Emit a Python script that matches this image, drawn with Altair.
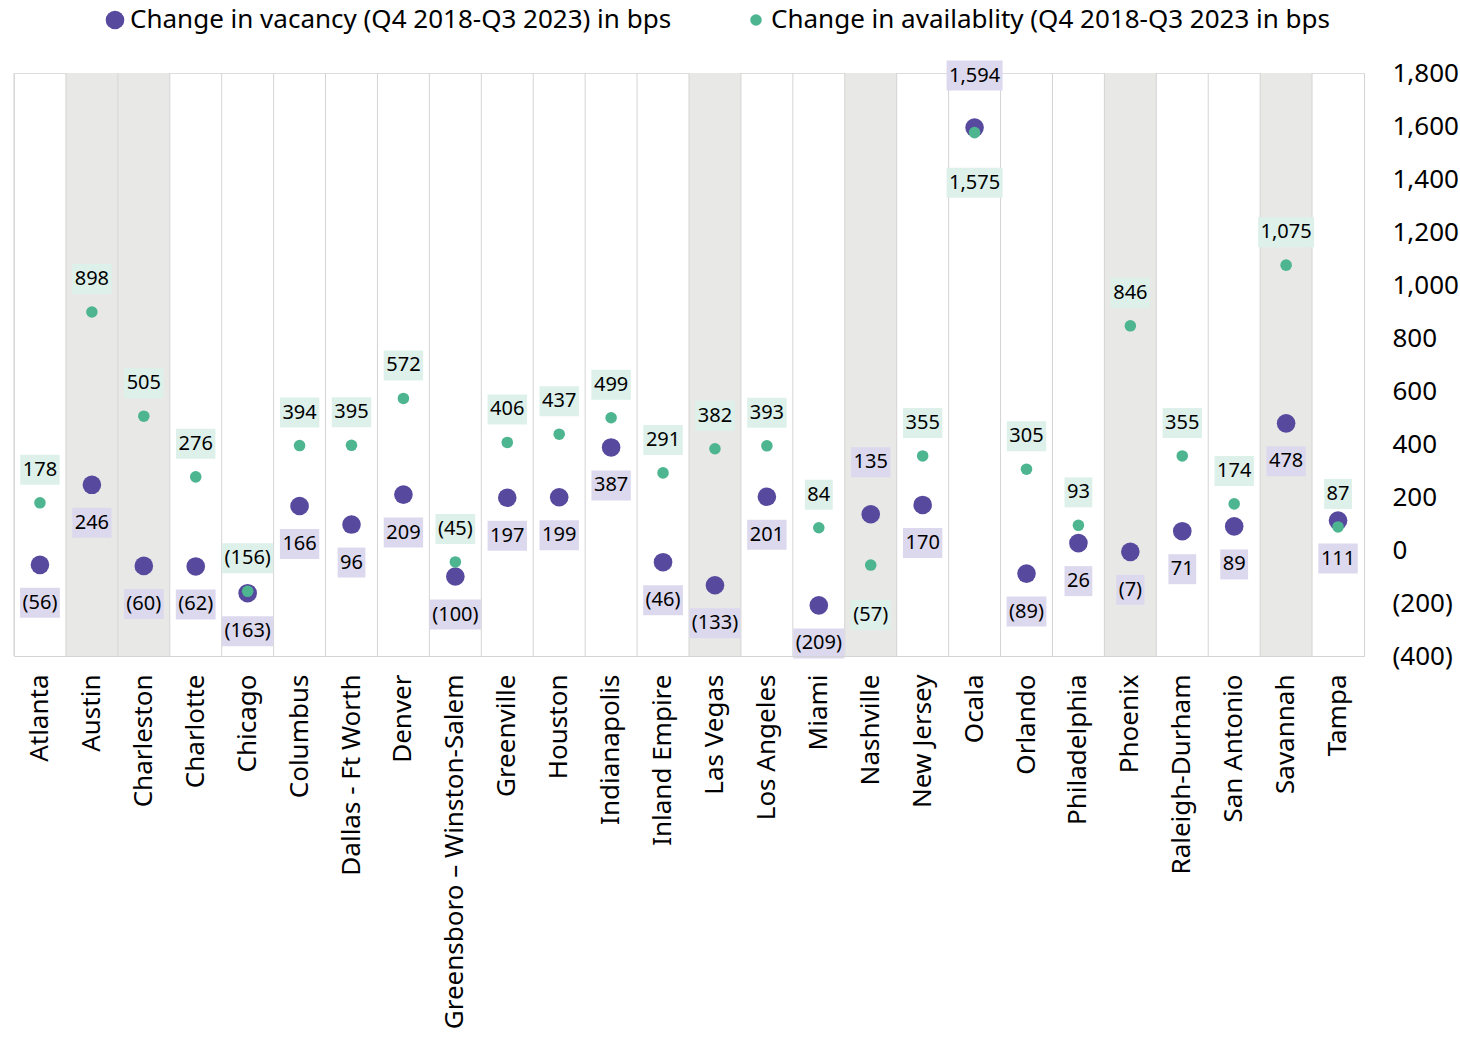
import altair as alt
import pandas as pd

cities = ["Atlanta", "Austin", "Charleston", "Charlotte", "Chicago", "Columbus",
          "Dallas - Ft Worth", "Denver", "Greensboro – Winston-Salem", "Greenville",
          "Houston", "Indianapolis", "Inland Empire", "Las Vegas", "Los Angeles",
          "Miami", "Nashville", "New Jersey", "Ocala", "Orlando", "Philadelphia",
          "Phoenix", "Raleigh-Durham", "San Antonio", "Savannah", "Tampa"]
vacancy = [-56, 246, -60, -62, -163, 166, 96, 209, -100, 197, 199, 387, -46, -133,
           201, -209, 135, 170, 1594, -89, 26, -7, 71, 89, 478, 111]
availability = [178, 898, 505, 276, -156, 394, 395, 572, -45, 406, 437, 499, 291,
                382, 393, 84, -57, 355, 1575, 305, 93, 846, 355, 174, 1075, 87]
shaded = ["Austin", "Charleston", "Las Vegas", "Nashville", "Phoenix", "Savannah"]
vac_label_above = ["Nashville", "Ocala"]
avail_label_below = ["Nashville", "Ocala"]
y_ticks = [-400, -200, 0, 200, 400, 600, 800, 1000, 1200, 1400, 1600, 1800]

VAC = "Change in vacancy (Q4 2018-Q3 2023) in bps"
AVAIL = "Change in availablity (Q4 2018-Q3 2023 in bps"

PURPLE = "#574a9e"
GREEN = "#4db590"
PURPLE_BG = "#dcd9ee"
GREEN_BG = "#ddf1ea"
GRID = "#d4d4d4"
SHADE = "#e8e8e6"
FONT = "Noto Sans"


def fmt(v):
    s = f"{abs(v):,}"
    return f"({s})" if v < 0 else s


def text_width(s, fs=20):
    w = 0.0
    for ch in s:
        if ch.isdigit():
            w += 0.572
        elif ch == ",":
            w += 0.26
        elif ch in "()":
            w += 0.296
        else:
            w += 0.5
    return w * fs


def box_path(s):
    hw = (text_width(s) + 5) / 2
    hh = 15
    return f"M{-hw:.1f},{-hh}H{hw:.1f}V{hh}H{-hw:.1f}Z"


rows = []
for c, v in zip(cities, vacancy):
    side = "above" if c in vac_label_above else "below"
    rows.append(dict(city=c, series=VAC, value=v, label=fmt(v), box=box_path(fmt(v)), side=side))
for c, v in zip(cities, availability):
    side = "below" if c in avail_label_below else "above"
    rows.append(dict(city=c, series=AVAIL, value=v, label=fmt(v), box=box_path(fmt(v)), side=side))
df = pd.DataFrame(rows)
df_cities = pd.DataFrame({"city": cities})
df_shade = pd.DataFrame({"city": shaded})

x_scale = alt.Scale(domain=cities, paddingInner=0, paddingOuter=0)
y_scale = alt.Scale(domain=[y_ticks[0], y_ticks[-1]], nice=False, zero=False)

x_axis = alt.Axis(orient="bottom", labelAngle=-90, labelFontSize=26, labelFont=FONT,
                  labelColor="#000000", domainColor=GRID, domainWidth=1, ticks=False,
                  tickSize=0, grid=False, labelPadding=18, title=None, labelLimit=500)
y_axis = alt.Axis(orient="right", values=y_ticks, labelFontSize=26, labelFont=FONT,
                  labelColor="#000000", domain=True, domainColor=GRID, ticks=False,
                  tickSize=0, grid=False, labelPadding=28, labelAlign="left",
                  labelBaseline="middle", title=None,
                  labelExpr="datum.value < 0 ? '(' + format(-datum.value, ',') + ')' : format(datum.value, ',')")


def X(**kw):
    return alt.X("city:N", scale=x_scale, axis=x_axis, sort=cities, **kw)


def Y():
    return alt.Y("value:Q", scale=y_scale, axis=y_axis)


shade = alt.Chart(df_shade).mark_rect(color=SHADE).encode(
    x=X(), y=alt.datum(y_ticks[0], scale=y_scale, axis=y_axis), y2=alt.datum(y_ticks[-1]))

grid = alt.Chart(df_cities).mark_rule(color=GRID, strokeWidth=1).encode(
    x=X(bandPosition=0), y=alt.datum(y_ticks[0], scale=y_scale, axis=y_axis), y2=alt.datum(y_ticks[-1]))

points = alt.Chart(df).mark_circle(opacity=1).encode(
    x=X(), y=Y(),
    color=alt.Color("series:N", scale=alt.Scale(domain=[VAC, AVAIL], range=[PURPLE, GREEN]),
                    legend=alt.Legend(orient="none", legendX=88, legendY=-66,
                                      direction="horizontal", title=None, labelFontSize=26,
                                      labelFont=FONT, labelColor="#000000", symbolType="circle",
                                      symbolSize=180, columnPadding=71, labelOffset=2,
                                      padding=0, labelLimit=800)),
    size=alt.Size("series:N", scale=alt.Scale(domain=[VAC, AVAIL], range=[346, 133]), legend=None),
)

layers = [shade, grid, points]
offsets = {(VAC, "below"): 38, (VAC, "above"): -52, (AVAIL, "above"): -33, (AVAIL, "below"): 50}
bgs = {VAC: PURPLE_BG, AVAIL: GREEN_BG}
for (series, side), off in offsets.items():
    sub = df[(df.series == series) & (df.side == side)]
    if sub.empty:
        continue
    box = alt.Chart(sub).mark_point(filled=True, opacity=1, size=4, strokeWidth=0,
                                    yOffset=off, color=bgs[series]).encode(
        x=X(), y=Y(), shape=alt.Shape("box:N", scale=None))
    txt = alt.Chart(sub).mark_text(fontSize=20, font=FONT, color="#000000",
                                   baseline="middle", align="center", yOffset=off).encode(
        x=X(), y=Y(), text="label:N")
    layers += [box, txt]

chart = alt.layer(*layers).properties(
    width=1350, height=583,
    autosize=alt.AutoSizeParams(type="none"),
    padding={"left": 14, "top": 73, "right": 96, "bottom": 381},
).configure_view(stroke=None, strokeWidth=0).configure(font=FONT)

chart.save("out.html", embed_options={"renderer": "svg", "actions": False})
